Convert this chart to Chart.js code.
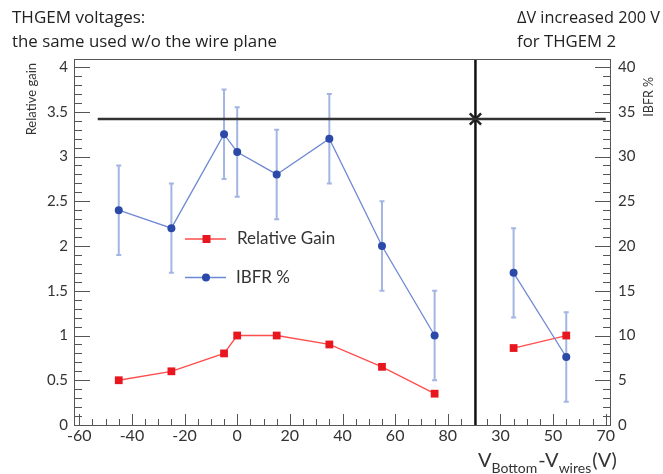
<!DOCTYPE html>
<html>
<head>
<meta charset="utf-8">
<script src="https://cdn.jsdelivr.net/npm/chart.js@4/dist/chart.umd.min.js"></script>
<style>
  html, body { margin: 0; padding: 0; background: #fff; }
  #wrap { width: 663px; height: 474px; position: relative; }
</style>
</head>
<body>
<div id="wrap"><canvas id="c" width="663" height="474"></canvas></div>
<script>
// ---- data ----
const xLeft = [-45, -25, -5, 0, 15, 35, 55, 75];            // V_Bottom - V_wires (V), first block
const gainLeft = [0.5, 0.6, 0.8, 1.0, 1.0, 0.9, 0.65, 0.35];
const ibfrLeft = [24, 22, 32.5, 30.5, 28, 32, 20, 10];
const ibfrErrLeft = [5, 5, 5, 5, 5, 5, 5, 5];

const xRight = [35, 55];                                     // second block (ΔV increased 200 V)
const gainRight = [0.86, 1.0];
const ibfrRight = [17, 7.6];
const ibfrErrRight = [5, 5];

const xTickLabelsLeft = [-60, -40, -20, 0, 20, 40, 60, 80];
const xTickLabelsRight = [30, 50, 70];
const yTickLabels = [0, 0.5, 1, 1.5, 2, 2.5, 3, 3.5, 4];
const y2TickLabels = [0, 5, 10, 15, 20, 25, 30, 35, 40];

const RIGHT_OFFSET = 70;     // second block drawn after the first on a shared axis
const BREAK_X = 90.5;        // vertical separator
const REF_LEVEL = 3.42;      // horizontal reference line (relative gain axis)
const REF_X_START = -53, REF_X_END = 140;

const FONT = 'Lato, "Open Sans", sans-serif';
const HFONT = '"Open Sans", Lato, sans-serif';
const TXT = '#333';
const BLUE_LINE = '#6d88d4', BLUE_PT = '#2b49a8', BLUE_ERR = '#a3b5e2';
const RED_LINE = '#ff4d4d', RED_PT = '#e8161f';

const pts = (xs, ys, off) => xs.map((x, i) => ({ x: x + off, y: ys[i] }));

const errorBars = {
  id: 'errorBars',
  beforeDatasetsDraw(chart) {
    const { ctx, scales: { x, y2 } } = chart;
    ctx.save();
    ctx.strokeStyle = BLUE_ERR;
    ctx.lineWidth = 2;
    const draw = (xs, ys, es, off) => {
      xs.forEach((xv, i) => {
        const px = x.getPixelForValue(xv + off);
        const t = y2.getPixelForValue(ys[i] + es[i]);
        const b = y2.getPixelForValue(ys[i] - es[i]);
        ctx.beginPath();
        ctx.moveTo(px, t); ctx.lineTo(px, b);
        ctx.moveTo(px - 2.5, t); ctx.lineTo(px + 2.5, t);
        ctx.moveTo(px - 2.5, b); ctx.lineTo(px + 2.5, b);
        ctx.stroke();
      });
    };
    draw(xLeft, ibfrLeft, ibfrErrLeft, 0);
    draw(xRight, ibfrRight, ibfrErrRight, RIGHT_OFFSET);
    ctx.restore();
  }
};

const frameAndText = {
  id: 'frameAndText',
  afterDraw(chart) {
    const { ctx, chartArea: a, scales: { x, y, y2 } } = chart;
    ctx.save();
    // frame
    ctx.strokeStyle = '#555';
    ctx.lineWidth = 1;
    ctx.strokeRect(a.left + 0.5, a.top + 0.5, a.right - a.left - 1, a.bottom - a.top);
    const line = (x1, y1, x2, y2_) => { ctx.beginPath(); ctx.moveTo(x1, y1); ctx.lineTo(x2, y2_); ctx.stroke(); };
    // left axis ticks (inward)
    for (let i = 0; i <= 40; i++) {
      const py = Math.round(y.getPixelForValue(i / 10)) + 0.5;
      line(a.left, py, a.left + (i % 5 === 0 ? 16 : 8), py);
    }
    // right axis ticks (inward)
    for (let i = 0; i <= 40; i++) {
      const py = Math.round(y2.getPixelForValue(i)) + 0.5;
      line(a.right - (i % 5 === 0 ? 16 : 8), py, a.right, py);
    }
    // bottom axis ticks
    for (let u = -60; u <= 85; u += 5) {
      const px = Math.round(x.getPixelForValue(u)) + 0.5;
      line(px, a.bottom, px, a.bottom - (u % 20 === 0 ? 11 : 6));
    }
    for (let v = 25; v <= 70; v += 5) {
      const px = Math.round(x.getPixelForValue(v + RIGHT_OFFSET)) + 0.5;
      line(px, a.bottom, px, a.bottom - ((v - 30) % 20 === 0 ? 11 : 6));
    }

    // header texts
    ctx.fillStyle = '#222';
    ctx.textBaseline = 'middle';
    ctx.textAlign = 'left';
    ctx.font = '17px ' + HFONT;
    ctx.fillText('THGEM voltages:', 12, 18, 134);
    ctx.fillText('the same used w/o the wire plane', 12, 42, 265);
    ctx.fillText('\u0394V increased 200 V', 517, 18, 143);
    ctx.fillText('for THGEM 2', 517, 42, 99);

    // axis titles
    ctx.fillStyle = TXT;
    ctx.font = '13px ' + FONT;
    ctx.save();
    ctx.translate(32, 63);
    ctx.rotate(-Math.PI / 2);
    ctx.textAlign = 'right';
    ctx.fillText('Relative gain', 0, 0);
    ctx.restore();
    ctx.font = '12.5px ' + FONT;
    ctx.save();
    ctx.translate(649, 77);
    ctx.rotate(-Math.PI / 2);
    ctx.textAlign = 'right';
    ctx.fillText('IBFR %', 0, 0);
    ctx.restore();

    // x title with subscripts
    ctx.textAlign = 'left';
    ctx.textBaseline = 'alphabetic';
    let cx = 478;
    const base = 467;
    const big = '20px ' + FONT, small = '14px ' + FONT;
    const parts = [['V', big, 0], ['Bottom', small, 6], ['-V', big, 0], ['wires', small, 6], ['(V)', big, 0]];
    parts.forEach(([t, f, dy]) => {
      ctx.font = f;
      ctx.fillText(t, cx, base + dy);
      cx += ctx.measureText(t).width + (dy ? 1 : 0);
    });

    // legend
    ctx.lineWidth = 1.5;
    ctx.strokeStyle = RED_LINE;
    line(185, 239, 226, 239);
    ctx.fillStyle = RED_PT;
    ctx.fillRect(206.5 - 4, 239 - 4, 8, 8);
    ctx.strokeStyle = BLUE_LINE;
    line(185, 277.5, 226, 277.5);
    ctx.fillStyle = BLUE_PT;
    ctx.beginPath(); ctx.arc(206, 277.5, 4, 0, Math.PI * 2); ctx.fill();
    ctx.fillStyle = TXT;
    ctx.font = '17px ' + FONT;
    ctx.textBaseline = 'middle';
    ctx.fillText('Relative Gain', 237, 239);
    ctx.fillText('IBFR %', 236, 278);
    ctx.restore();
  }
};

const gainStyle = {
  borderColor: RED_LINE, borderWidth: 1.3, backgroundColor: RED_PT,
  pointStyle: 'rect', pointRadius: 5.5, pointBorderWidth: 0, pointBackgroundColor: RED_PT,
  yAxisID: 'y', tension: 0
};
const ibfrStyle = {
  borderColor: BLUE_LINE, borderWidth: 1.3, backgroundColor: BLUE_PT,
  pointStyle: 'circle', pointRadius: 4, pointBorderWidth: 0, pointBackgroundColor: BLUE_PT,
  yAxisID: 'y2', tension: 0
};

new Chart(document.getElementById('c'), {
  type: 'line',
  data: {
    datasets: [
      { label: 'IBFR %', data: pts(xLeft, ibfrLeft, 0), ...ibfrStyle },
      { label: 'IBFR % (2)', data: pts(xRight, ibfrRight, RIGHT_OFFSET), ...ibfrStyle },
      { label: 'Relative Gain', data: pts(xLeft, gainLeft, 0), ...gainStyle },
      { label: 'Relative Gain (2)', data: pts(xRight, gainRight, RIGHT_OFFSET), ...gainStyle },
      { label: 'ref-h', data: [{ x: REF_X_START, y: REF_LEVEL }, { x: REF_X_END, y: REF_LEVEL }],
        borderColor: '#333', borderWidth: 2.5, pointRadius: 0, yAxisID: 'y' },
      { label: 'ref-v', data: [{ x: BREAK_X, y: 0 }, { x: BREAK_X, y: 4.09 }],
        borderColor: '#111', borderWidth: 2.5, pointRadius: 0, yAxisID: 'y' },
      { label: 'cross', data: [{ x: BREAK_X, y: REF_LEVEL }], showLine: false,
        pointStyle: 'crossRot', pointRadius: 8, pointBorderWidth: 2.5, pointBorderColor: '#222',
        borderColor: '#222', yAxisID: 'y' }
    ]
  },
  options: {
    responsive: false,
    animation: false,
    layout: { padding: { top: 59, left: 0, right: 0, bottom: 0 } },
    plugins: { legend: { display: false }, tooltip: { enabled: false } },
    scales: {
      x: {
        type: 'linear', min: -62, max: 142,
        grid: { display: false, drawTicks: false },
        border: { display: false },
        afterBuildTicks: s => { s.ticks = [...xTickLabelsLeft, ...xTickLabelsRight.map(v => v + RIGHT_OFFSET)].map(v => ({ value: v })); },
        afterFit: s => { s.height = 49; },
        ticks: {
          autoSkip: false, maxRotation: 0, padding: 1, color: TXT,
          font: { family: FONT, size: 16 },
          callback: v => String(v > BREAK_X ? v - RIGHT_OFFSET : v)
        }
      },
      y: {
        type: 'linear', position: 'left', min: 0, max: 4.09,
        grid: { display: false, drawTicks: false },
        border: { display: false },
        afterBuildTicks: s => { s.ticks = yTickLabels.map(v => ({ value: v })); },
        afterFit: s => { s.width = 74; },
        ticks: { padding: 6, color: TXT, font: { family: FONT, size: 15 }, callback: v => String(v) }
      },
      y2: {
        type: 'linear', position: 'right', min: 0, max: 40.9,
        grid: { display: false, drawTicks: false },
        border: { display: false },
        afterBuildTicks: s => { s.ticks = y2TickLabels.map(v => ({ value: v })); },
        afterFit: s => { s.width = 52; },
        ticks: { padding: 7, color: TXT, font: { family: FONT, size: 15 }, callback: v => String(v) }
      }
    }
  },
  plugins: [errorBars, frameAndText]
});
</script>
</body>
</html>
